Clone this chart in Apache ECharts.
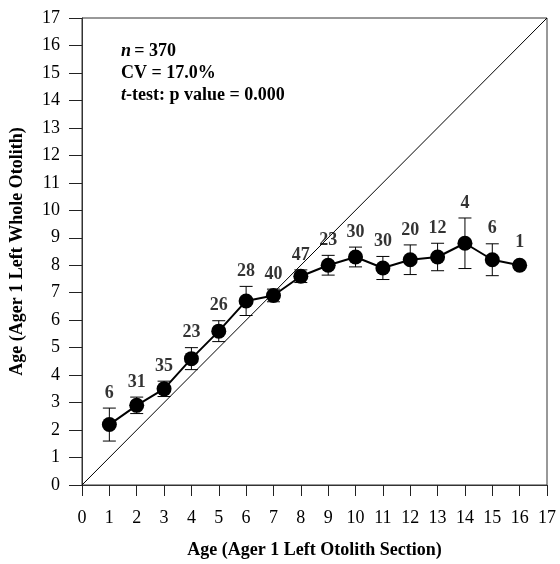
<!DOCTYPE html>
<html>
<head>
<meta charset="utf-8">
<script src="https://cdn.jsdelivr.net/npm/echarts@6/dist/echarts.min.js"></script>
<style>html,body{margin:0;padding:0;background:#fff}#c{width:560px;height:564px}</style>
</head>
<body>
<div id="c"></div>
<script>
var ages = [1,2,3,4,5,6,7,8,9,10,11,12,13,14,15,16];
var means = [2.2,2.9,3.5,4.6,5.6,6.7,6.9,7.6,8.0,8.3,7.9,8.2,8.3,8.8,8.2,8.0];
var errs = [0.6,0.3,0.28,0.4,0.38,0.53,0.23,0.23,0.36,0.36,0.42,0.54,0.5,0.92,0.58,0];
var counts = [6,31,35,23,26,28,40,47,23,30,30,20,12,4,6,1];
var axisTicks = [0,17];

var font = '"Liberation Serif","Times New Roman",serif';
var chart = echarts.init(document.getElementById('c'));

var meanData = ages.map(function(a,i){return [a, means[i]];});
var errData = ages.map(function(a,i){return [a, means[i]-errs[i], means[i]+errs[i]];});
var labelData = ages.map(function(a,i){
  return {value:[a, means[i]+errs[i]], label:{distance: errs[i] > 0 ? 6 : 14}, name:String(counts[i])};
});

chart.setOption({
  animation:false,
  grid:{left:82,right:13,top:18,bottom:78,show:true,borderColor:'#333',borderWidth:1},
  xAxis:{
    type:'value',min:axisTicks[0],max:axisTicks[1],interval:1,
    name:'Age (Ager 1 Left Otolith Section)',nameLocation:'middle',nameGap:56,
    nameTextStyle:{fontFamily:font,fontWeight:'bold',fontSize:18,color:'#000'},
    axisLine:{show:true,onZero:false,lineStyle:{color:'#333',width:1}},
    axisTick:{show:true,inside:false,length:11,lineStyle:{color:'#222',width:1}},
    axisLabel:{fontFamily:font,fontSize:18,color:'#000',margin:24},
    splitLine:{show:false}
  },
  yAxis:{
    type:'value',min:axisTicks[0],max:axisTicks[1],interval:1,
    name:'Age (Ager 1 Left Whole Otolith)',nameLocation:'middle',nameGap:56,nameRotate:90,
    nameTextStyle:{fontFamily:font,fontWeight:'bold',fontSize:18,color:'#000'},
    axisLine:{show:true,onZero:false,lineStyle:{color:'#333',width:1}},
    axisTick:{show:true,inside:false,length:13,lineStyle:{color:'#222',width:1}},
    axisLabel:{fontFamily:font,fontSize:18,color:'#000',margin:22},
    splitLine:{show:false}
  },
  graphic:[{
    type:'text',left:121,top:42,
    style:{
      text:'{i|n} {b|= 370}\n{b|CV = 17.0%}\n{i|t}{b|-test: p value = 0.000}',
      rich:{
        i:{fontFamily:font,fontSize:18,fontWeight:'bold',fontStyle:'italic',fill:'#000',lineHeight:22},
        b:{fontFamily:font,fontSize:18,fontWeight:'bold',fill:'#000',lineHeight:22}
      }
    }
  }],
  series:[
    {
      type:'line',data:[[axisTicks[0],axisTicks[0]],[axisTicks[1],axisTicks[1]]],
      symbol:'none',lineStyle:{color:'#000',width:1},silent:true,z:1
    },
    {
      type:'custom',z:2,
      data:errData,
      renderItem:function(params,api){
        var x=api.value(0), lo=api.value(1), hi=api.value(2);
        if(hi-lo<=0) return null;
        var pl=api.coord([x,lo]), ph=api.coord([x,hi]);
        var w=6.5;
        var st={stroke:'#000',lineWidth:1};
        return {type:'group',children:[
          {type:'line',shape:{x1:ph[0],y1:ph[1],x2:pl[0],y2:pl[1]},style:st},
          {type:'line',shape:{x1:ph[0]-w,y1:ph[1],x2:ph[0]+w,y2:ph[1]},style:st},
          {type:'line',shape:{x1:pl[0]-w,y1:pl[1],x2:pl[0]+w,y2:pl[1]},style:st}
        ]};
      }
    },
    {
      type:'line',data:meanData,z:3,
      symbol:'circle',symbolSize:15,
      itemStyle:{color:'#000'},lineStyle:{color:'#000',width:2}
    },
    {
      type:'scatter',data:labelData,z:4,symbolSize:0,
      label:{show:true,position:'top',formatter:function(p){return p.name;},
        fontFamily:font,fontSize:18,fontWeight:'bold',color:'#000'}
    }
  ]
});
</script>
</body>
</html>
